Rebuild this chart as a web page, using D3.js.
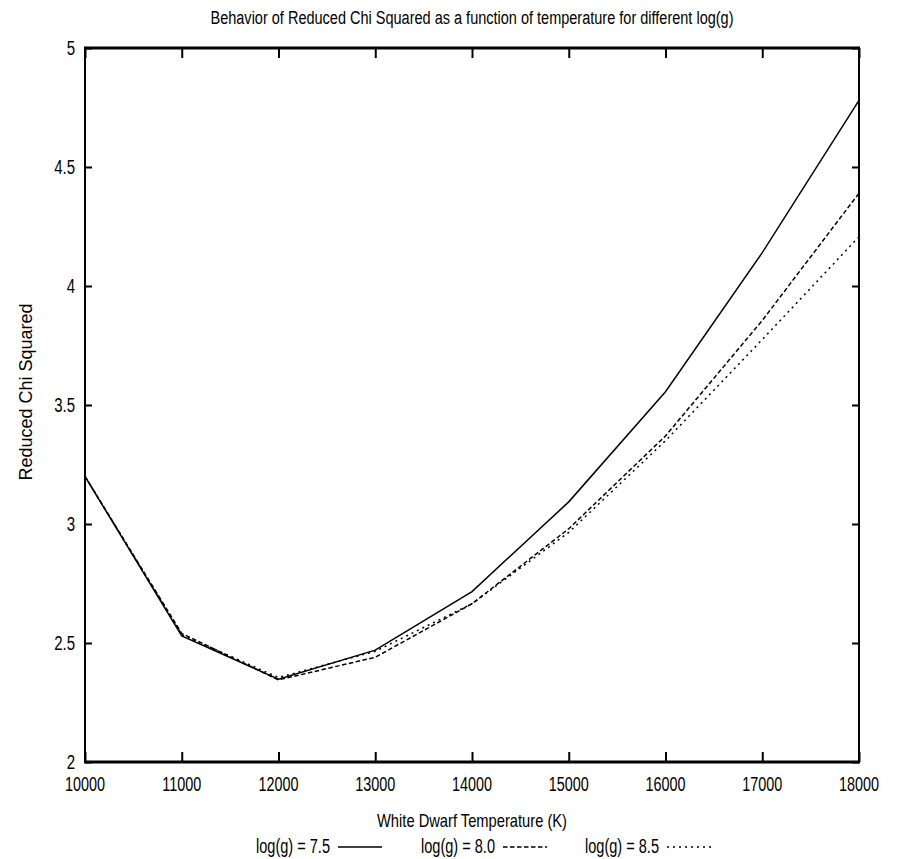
<!DOCTYPE html>
<html>
<head>
<meta charset="utf-8">
<script src="https://cdn.jsdelivr.net/npm/d3@7/dist/d3.min.js"></script>
<style>
  html, body { margin: 0; padding: 0; background: #fff; }
  text { font-family: "Liberation Sans", Arial, Helvetica, sans-serif; fill: #000; }
</style>
</head>
<body>
<svg id="chart" width="898" height="859"></svg>
<script>
// ---- Data ----
const temperatures = [10000, 11000, 12000, 13000, 14000, 15000, 16000, 17000, 18000];
const chiLogg75 = [3.20, 2.53, 2.348, 2.47, 2.716, 3.093, 3.556, 4.14, 4.78];
const chiLogg80 = [3.20, 2.54, 2.345, 2.44, 2.665, 2.98, 3.37, 3.855, 4.39];
const chiLogg85 = [3.20, 2.535, 2.355, 2.465, 2.665, 2.965, 3.35, 3.775, 4.207];
const seriesNames = ["log(g) = 7.5", "log(g) = 8.0", "log(g) = 8.5"];
const xTickValues = [10000, 11000, 12000, 13000, 14000, 15000, 16000, 17000, 18000];
const yTickValues = [2, 2.5, 3, 3.5, 4, 4.5, 5];
const titleText = "Behavior of Reduced Chi Squared as a function of temperature for different log(g)";
const xLabelText = "White Dwarf Temperature (K)";
const yLabelText = "Reduced Chi Squared";

const series = [
  { name: seriesNames[0], values: chiLogg75, dash: null },
  { name: seriesNames[1], values: chiLogg80, dash: "4.5,2.5" },
  { name: seriesNames[2], values: chiLogg85, dash: "2,4" }
];

const svg = d3.select("#chart");
const L = 85, R = 859, T = 48, B = 762;

const x = d3.scaleLinear().domain([10000, 18000]).range([L, R]);
const y = d3.scaleLinear().domain([2, 5]).range([B, T]);

function squish(sel, f) {
  sel.each(function () {
    const w = this.getComputedTextLength();
    d3.select(this).attr("textLength", w * f).attr("lengthAdjust", "spacingAndGlyphs");
  });
}
function fitWidth(sel, w) {
  sel.attr("textLength", w).attr("lengthAdjust", "spacingAndGlyphs");
}

// Axes (ticks inward)
const xBottom = svg.append("g").attr("transform", `translate(0,${B})`)
  .call(d3.axisTop(x).tickValues(xTickValues).tickSize(10).tickFormat(""));
const xTop = svg.append("g").attr("transform", `translate(0,${T})`)
  .call(d3.axisBottom(x).tickValues(xTickValues).tickSize(10).tickFormat(""));
const yLeft = svg.append("g").attr("transform", `translate(${L},0)`)
  .call(d3.axisRight(y).tickValues(yTickValues).tickSize(7).tickFormat(""));
const yRight = svg.append("g").attr("transform", `translate(${R},0)`)
  .call(d3.axisLeft(y).tickValues(yTickValues).tickSize(7).tickFormat(""));
[xBottom, xTop, yLeft, yRight].forEach(g => {
  g.select(".domain").remove();
  g.selectAll(".tick line").attr("stroke", "#000").attr("stroke-width", 2);
});

// Tick labels
const xLabels = svg.append("g").selectAll("text").data(xTickValues).join("text")
  .attr("x", d => x(d)).attr("y", 791)
  .attr("text-anchor", "middle").attr("font-size", 20)
  .text(d => d3.format("d")(d));
squish(xLabels, 0.72);

const yLabels = svg.append("g").selectAll("text").data(yTickValues).join("text")
  .attr("x", 75).attr("y", d => y(d) + 7)
  .attr("text-anchor", "end").attr("font-size", 20)
  .text(d => d3.format("")(d));
squish(yLabels, 0.75);

// Frame
svg.append("rect").attr("x", L).attr("y", T).attr("width", R - L).attr("height", B - T)
  .attr("fill", "none").attr("stroke", "#000").attr("stroke-width", 2);
svg.append("line").attr("x1", L - 1).attr("x2", R + 1).attr("y1", T).attr("y2", T)
  .attr("stroke", "#000").attr("stroke-width", 3);
svg.append("line").attr("x1", L - 1).attr("x2", R + 1).attr("y1", B).attr("y2", B)
  .attr("stroke", "#000").attr("stroke-width", 3);

// Lines
const line = d3.line().x((d, i) => x(temperatures[i])).y(d => y(d));
svg.append("g").selectAll("path").data(series).join("path")
  .attr("d", d => line(d.values))
  .attr("fill", "none").attr("stroke", "#000").attr("stroke-width", 1.5)
  .attr("stroke-dasharray", d => d.dash);

// Title & axis labels
svg.append("text").attr("x", (L + R) / 2).attr("y", 24).attr("text-anchor", "middle")
  .attr("font-size", 18).text(titleText).call(fitWidth, 523);
svg.append("text").attr("x", (L + R) / 2).attr("y", 827).attr("text-anchor", "middle")
  .attr("font-size", 19).text(xLabelText).call(fitWidth, 190);
svg.append("text").attr("transform", `translate(32,392) rotate(-90)`).attr("text-anchor", "middle")
  .attr("font-size", 18).text(yLabelText).call(fitWidth, 177);

// Legend
const legendX = [256, 421, 585];
const leg = svg.append("g").selectAll("g").data(series).join("g")
  .attr("transform", (d, i) => `translate(${legendX[i]},0)`);
leg.append("text").attr("x", 0).attr("y", 853).attr("font-size", 20)
  .text(d => d.name).call(fitWidth, 74);
leg.append("line").attr("x1", 82).attr("x2", 126).attr("y1", 847).attr("y2", 847)
  .attr("stroke", "#000").attr("stroke-width", 1.4)
  .attr("stroke-dasharray", d => d.dash);
</script>
</body>
</html>
